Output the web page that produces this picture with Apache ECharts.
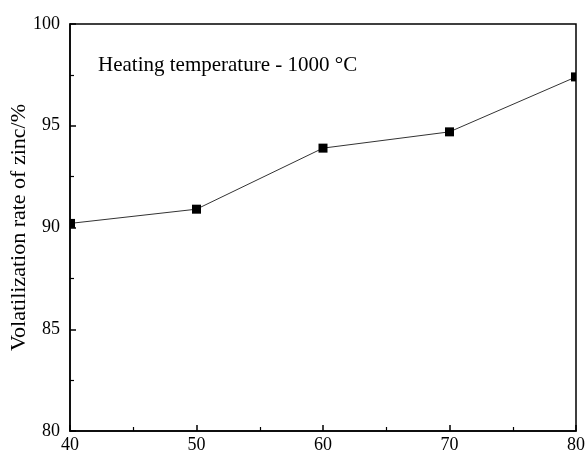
<!DOCTYPE html>
<html>
<head>
<meta charset="utf-8">
<script src="https://cdn.jsdelivr.net/npm/echarts@6/dist/echarts.min.js"></script>
<style>
  html, body { margin: 0; padding: 0; background: #fff; }
  #chart { width: 585px; height: 454px; }
</style>
</head>
<body>
<div id="chart"></div>
<script>
// Zinc volatilization rate versus time at a heating temperature of 1000 °C
const xValues = [40, 50, 60, 70, 80];
const zincRate = [90.2, 90.9, 93.9, 94.7, 97.4];
const xTicks = [40, 50, 60, 70, 80];
const yTicks = [80, 85, 90, 95, 100];
const yTitle = 'Volatilization rate of zinc/%';
const note = 'Heating temperature - 1000 °C';

const serif = '"Liberation Serif", "Times New Roman", serif';
const chart = echarts.init(document.getElementById('chart'), null, { renderer: 'canvas' });

const xMin = xTicks[0], xMax = xTicks[xTicks.length - 1];
const points = xValues.map((x, i) => {
  const item = { value: [x, zincRate[i]] };
  // squares sitting on the frame are cut by the plot edge
  if (x === xMin) { item.symbolSize = [5, 9]; item.symbolOffset = [2.5, 0]; }
  if (x === xMax) { item.symbolSize = [5, 9]; item.symbolOffset = [-2.5, 0]; }
  return item;
});

const axisCommon = {
  type: 'value',
  axisLine: { show: true, lineStyle: { color: '#000', width: 1.5 } },
  axisTick: { show: true, inside: true, length: 6, lineStyle: { color: '#000', width: 1.5 } },
  minorTick: { show: true, splitNumber: 2, length: 4, lineStyle: { color: '#000', width: 1.2 } },
  splitLine: { show: false },
  axisLabel: { color: '#000', fontFamily: serif, fontSize: 18 }
};

chart.setOption({
  animation: false,
  grid: {
    left: 70, right: 9, top: 24, bottom: 23,
    outerBoundsMode: 'none',
    containLabel: false,
    show: true, borderColor: '#000', borderWidth: 1.5
  },
  xAxis: Object.assign({}, axisCommon, {
    min: xMin, max: xMax, interval: xTicks[1] - xTicks[0],
    axisLabel: Object.assign({}, axisCommon.axisLabel, { margin: 5 })
  }),
  yAxis: Object.assign({}, axisCommon, {
    min: yTicks[0], max: yTicks[yTicks.length - 1], interval: yTicks[1] - yTicks[0],
    axisLabel: Object.assign({}, axisCommon.axisLabel, { margin: 10 }),
    name: yTitle,
    nameLocation: 'middle',
    nameGap: 40,
    nameMoveOverlap: false,
    nameTextStyle: { color: '#000', fontFamily: serif, fontSize: 22 }
  }),
  graphic: [{
    type: 'text',
    left: 98,
    top: 55,
    style: { text: note, fill: '#000', font: '21px ' + serif }
  }],
  series: [{
    type: 'line',
    data: points,
    symbol: 'rect',
    symbolSize: 9,
    itemStyle: { color: '#000' },
    lineStyle: { color: '#333', width: 1 }
  }]
});
</script>
</body>
</html>
